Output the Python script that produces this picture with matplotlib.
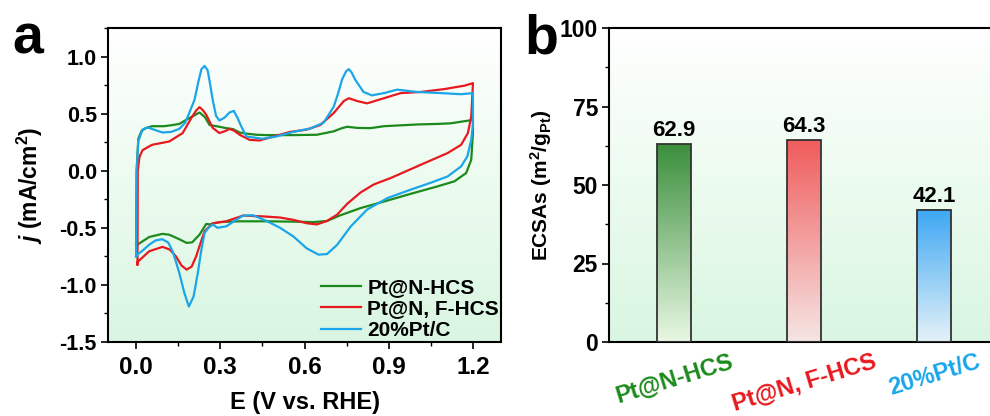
import numpy as np
import matplotlib
matplotlib.use("Agg")
import matplotlib.pyplot as plt
from matplotlib.colors import LinearSegmentedColormap
from matplotlib.ticker import MultipleLocator

plt.rcParams['font.family'] = ['Liberation Sans', 'DejaVu Sans']
plt.rcParams['font.weight'] = 'bold'
plt.rcParams['mathtext.fontset'] = 'custom'
plt.rcParams['mathtext.rm'] = 'Liberation Sans:bold'
plt.rcParams['mathtext.it'] = 'Liberation Sans:italic:bold'
plt.rcParams['mathtext.bf'] = 'Liberation Sans:bold'

# ---------------- data: panel a (CV curves) ----------------
series_names = ["Pt@N-HCS", "Pt@N, F-HCS", "20%Pt/C"]

green_E = [0.0, 0.002, 0.008, 0.02, 0.035, 0.057, 0.10, 0.13, 0.154, 0.178, 0.20, 0.226, 0.245, 0.262, 0.286,
           0.321, 0.345, 0.369, 0.393, 0.429, 0.465, 0.56, 0.644, 0.704, 0.73, 0.752, 0.788, 0.835, 0.883, 1.0,
           1.074, 1.12, 1.2,
           1.2, 1.194, 1.176, 1.134, 1.074, 0.967, 0.883, 0.80, 0.728, 0.68, 0.632, 0.56, 0.465, 0.369, 0.297,
           0.262, 0.25, 0.226, 0.20, 0.18, 0.154, 0.118, 0.094, 0.047, 0.005, 0.0]
green_j = [-0.65, 0.0, 0.28, 0.35, 0.373, 0.39, 0.39, 0.40, 0.41, 0.445, 0.475, 0.51, 0.47, 0.40, 0.39,
           0.373, 0.365, 0.335, 0.325, 0.315, 0.312, 0.312, 0.315, 0.345, 0.37, 0.385, 0.375, 0.373, 0.39, 0.405,
           0.41, 0.415, 0.445,
           0.33, 0.096, -0.02, -0.093, -0.137, -0.21, -0.27, -0.327, -0.39, -0.44, -0.45, -0.446, -0.443, -0.443, -0.45,
           -0.47, -0.466, -0.56, -0.627, -0.632, -0.60, -0.56, -0.553, -0.58, -0.647, -0.65]

red_E = [0.005, 0.006, 0.012, 0.023, 0.057, 0.118, 0.166, 0.20, 0.215, 0.226, 0.238, 0.25, 0.273, 0.297, 0.315,
         0.333, 0.35, 0.369, 0.405, 0.44, 0.49, 0.549, 0.608, 0.656, 0.704, 0.74, 0.758, 0.788, 0.823, 0.883, 0.943,
         1.015, 1.098, 1.17, 1.2,
         1.194, 1.182, 1.158, 1.11, 1.014, 0.907, 0.847, 0.80, 0.752, 0.716, 0.68, 0.644, 0.608, 0.56,
         0.513, 0.453, 0.381, 0.321, 0.273, 0.244, 0.226, 0.214, 0.198, 0.18, 0.162, 0.142, 0.12, 0.094, 0.047,
         0.005, 0.005]
red_j = [-0.82, 0.0, 0.12, 0.18, 0.227, 0.256, 0.33, 0.475, 0.53, 0.557, 0.53, 0.49, 0.375, 0.33, 0.345,
         0.366, 0.35, 0.315, 0.27, 0.265, 0.30, 0.34, 0.36, 0.40, 0.505, 0.61, 0.635, 0.61, 0.59, 0.635, 0.68,
         0.69, 0.715, 0.745, 0.767,
         0.475, 0.33, 0.227, 0.155, 0.052, -0.064, -0.12, -0.19, -0.29, -0.385, -0.44, -0.47, -0.46, -0.43,
         -0.41, -0.40, -0.393, -0.443, -0.46, -0.53, -0.66, -0.75, -0.84, -0.866, -0.83, -0.75, -0.69, -0.667, -0.705,
         -0.80, -0.82]

blue_E = [0.0, 0.002, 0.008, 0.023, 0.04, 0.07, 0.094, 0.125, 0.154, 0.175, 0.19, 0.208, 0.222, 0.233, 0.244,
          0.255, 0.265, 0.273, 0.285, 0.297, 0.315, 0.333, 0.348, 0.36, 0.375, 0.393, 0.45, 0.50, 0.56, 0.62,
          0.668, 0.704, 0.72, 0.734, 0.748, 0.758, 0.768, 0.78, 0.81, 0.84, 0.883, 0.93, 1.0, 1.086, 1.158, 1.2,
          1.2, 1.194, 1.18, 1.158, 1.11, 1.05, 0.978, 0.895, 0.823, 0.764, 0.716, 0.68, 0.65, 0.608, 0.56, 0.513,
          0.465, 0.417, 0.381, 0.357, 0.321, 0.29, 0.273, 0.258, 0.244, 0.232, 0.22, 0.205, 0.188, 0.172, 0.154,
          0.14, 0.13, 0.115, 0.094, 0.07, 0.047, 0.023, 0.005, 0.0]
blue_j = [-0.75, 0.0, 0.26, 0.36, 0.38, 0.355, 0.335, 0.34, 0.367, 0.42, 0.51, 0.62, 0.78, 0.89, 0.918,
          0.88, 0.74, 0.62, 0.48, 0.44, 0.465, 0.51, 0.524, 0.47, 0.387, 0.30, 0.28, 0.30, 0.34, 0.37,
          0.42, 0.56, 0.68, 0.80, 0.87, 0.89, 0.86, 0.80, 0.69, 0.66, 0.68, 0.71, 0.69, 0.68, 0.67, 0.68,
          0.40, 0.27, 0.125, 0.038, -0.05, -0.105, -0.166, -0.24, -0.34, -0.49, -0.65, -0.73, -0.735, -0.68, -0.575, -0.50,
          -0.44, -0.39, -0.393, -0.43, -0.487, -0.50, -0.47, -0.50, -0.545, -0.70, -0.895, -1.10, -1.19, -1.07, -0.895,
          -0.78, -0.705, -0.63, -0.60, -0.61, -0.647, -0.70, -0.734, -0.75]

# ---------------- data: panel b (bars) ----------------
bar_labels = ["Pt@N-HCS", "Pt@N, F-HCS", "20%Pt/C"]
bar_values = [62.9, 64.3, 42.1]

c_green = "#1c8a1c"
c_red = "#e8191e"
c_blue = "#1ba6ea"

fig = plt.figure(figsize=(9.9, 4.16), dpi=100)

def bg_gradient(ax):
    cmap = LinearSegmentedColormap.from_list("bg", ["#ffffff", "#ecfbef", "#d9f6e2"])
    grad = np.linspace(0, 1, 256).reshape(-1, 1)
    ax.imshow(grad, cmap=cmap, aspect='auto', extent=[0, 1, 0, 1], origin='upper',
              transform=ax.transAxes, zorder=0, interpolation='bilinear')

# ---------------- panel a ----------------
ax1 = fig.add_axes([108/990, 74/416, 393/990, 314/416])
bg_gradient(ax1)
lw = 1.6
ax1.plot(green_E, green_j, color=c_green, lw=lw, label=series_names[0], zorder=3)
ax1.plot(red_E, red_j, color=c_red, lw=lw, label=series_names[1], zorder=3)
ax1.plot(blue_E, blue_j, color=c_blue, lw=lw, label=series_names[2], zorder=3)
ax1.set_xlim(-0.1, 1.3)
ax1.set_ylim(-1.5, 1.25)
ax1.xaxis.set_minor_locator(MultipleLocator(0.15))
ax1.yaxis.set_minor_locator(MultipleLocator(0.25))
ax1.set_xticks([0.0, 0.3, 0.6, 0.9, 1.2])
ax1.set_xticklabels(["0.0", "0.3", "0.6", "0.9", "1.2"])
ax1.set_yticks([-1.5, -1.0, -0.5, 0.0, 0.5, 1.0])
ax1.set_yticklabels(["-1.5", "-1.0", "-0.5", "0.0", "0.5", "1.0"])
ax1.tick_params(axis='both', which='major', direction='out', length=5, width=1.2, pad=3)
ax1.tick_params(axis='y', labelsize=15.5)
ax1.tick_params(axis='x', labelsize=17.5, pad=5)
ax1.tick_params(axis='both', which='minor', direction='out', length=3, width=1.0)
for s in ax1.spines.values():
    s.set_linewidth(1.5)
ax1.set_xlabel("E (V vs. RHE)", fontsize=17, fontweight='bold', labelpad=9)
ax1.set_ylabel(r"$j$ (mA/cm$^{2}$)", fontsize=16.5, fontweight='bold')
ax1.yaxis.set_label_coords(-0.16, 0.5)
leg = ax1.legend(loc='lower right', frameon=False, fontsize=15, handlelength=1.9,
                 handletextpad=0.3, labelspacing=0.12, borderaxespad=0.0, borderpad=0.1)

# ---------------- panel b ----------------
ax2 = fig.add_axes([609/990, 74/416, 390/990, 314/416])
bg_gradient(ax2)
xpos = np.arange(len(bar_values))
width = 0.26
grad_cols = [("#e9f8e3", "#3b8f3d"), ("#f5e6e4", "#f05c5c"), ("#e5f2f9", "#3da7f3")]
tick_cols = [c_green, c_red, c_blue]
for x, v, (lo, hi) in zip(xpos, bar_values, grad_cols):
    cm = LinearSegmentedColormap.from_list("b", [lo, hi])
    g = np.linspace(0, 1, 256).reshape(-1, 1)
    ax2.imshow(g, cmap=cm, aspect='auto', origin='lower',
               extent=[x - width/2, x + width/2, 0, v], zorder=2, interpolation='bilinear')
    ax2.text(x, v + 1.0, f"{v:.1f}", ha='center', va='bottom', fontsize=16, fontweight='bold', zorder=4)
ax2.bar(xpos, bar_values, width=width, facecolor='none', edgecolor='#333333', linewidth=1.3, zorder=3)
ax2.set_xlim(-0.5, 2.5)
ax2.set_ylim(0, 100)
ax2.set_yticks([0, 25, 50, 75, 100])
ax2.yaxis.set_minor_locator(MultipleLocator(12.5))
ax2.set_xticks(xpos)
ax2.set_xticklabels(bar_labels, rotation=17, fontsize=17, fontweight='bold')
for t, c in zip(ax2.get_xticklabels(), tick_cols):
    t.set_color(c)
ax2.tick_params(axis='x', length=0, pad=6)
ax2.tick_params(axis='y', which='major', direction='out', length=5, width=1.2, labelsize=16.5, pad=3)
ax2.tick_params(axis='y', which='minor', direction='out', length=3, width=1.0)
for s in ax2.spines.values():
    s.set_linewidth(1.5)
ax2.set_ylabel(r"ECSAs (m$^{2}$/g$_{\mathrm{Pt}}$)", fontsize=15, fontweight='bold')
ax2.yaxis.set_label_coords(-0.14, 0.5)

# panel letters
fig.text(12/990, 1 - 53/416, "a", fontsize=40, fontweight='bold', va='baseline', ha='left')
fig.text(524/990, 1 - 53/416, "b", fontsize=40, fontweight='bold', va='baseline', ha='left')

fig.savefig("out.png", dpi=100)
